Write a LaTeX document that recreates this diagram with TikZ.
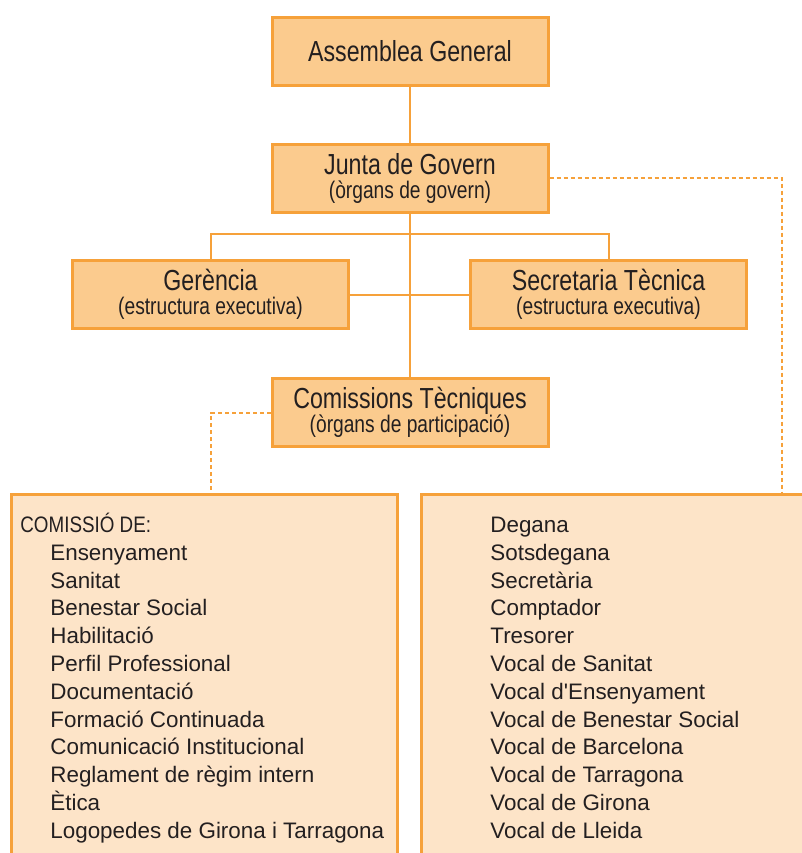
\documentclass[tikz,border=0pt]{standalone}
\usepackage{fontspec}
\usepackage{xcolor}
\setmainfont{Liberation Sans}
\newfontfamily\narrowfont{Liberation Sans}[FakeStretch=0.8]
\newfontfamily\capsfont{Liberation Sans}[FakeStretch=0.84]
\usetikzlibrary{positioning}

\definecolor{boxfill}{HTML}{FBCB8E}
\definecolor{boxline}{HTML}{F6A13A}
\definecolor{listfill}{HTML}{FDE4C8}
\definecolor{inkgray}{HTML}{231F20}

\newcommand{\bigline}{\narrowfont\fontsize{14.5}{12}\selectfont}
\newcommand{\smallline}{\narrowfont\fontsize{12}{12}\selectfont}
\newcommand{\listfont}{\fontsize{11.2}{13.9}\selectfont}
\newcommand{\apos}{\XeTeXglyph\XeTeXcharglyph"0027\relax}

\begin{document}
\begin{tikzpicture}[x=0.5pt, y=-0.5pt,
    orgbox/.style={draw=boxline, fill=boxfill, line width=1.5pt, minimum width=138pt, minimum height=34pt, inner sep=0pt, align=center, text=inkgray, font=\smallline},
    listbox/.style={draw=boxline, fill=listfill, line width=1.5pt, inner sep=0pt},
    listtext/.style={anchor=north west, inner sep=0pt, align=left, text=inkgray, font=\listfont},
    link/.style={draw=boxline, line width=1pt},
    dotlink/.style={draw=boxline, line width=1pt, dash pattern=on 2pt off 1.5pt}]
            \useasboundingbox (0,0) rectangle (802,853);
            \clip (0,0) rectangle (802,853);

            \node[orgbox] (assemblea) at (410, 51.5) {\bigline Assemblea General};
            \node[orgbox] (junta) at (410, 178) {{\bigline Junta de Govern}\\(òrgans de govern)};

            \node[orgbox] (gerencia)   at (210.5, 294.5) {{\bigline Gerència}\\(estructura executiva)};
            \node[orgbox] (secretaria) at (608.5, 294.5) {{\bigline Secretaria Tècnica}\\(estructura executiva)};

            \node[orgbox] (comissions) at (410, 412.5) {{\bigline Comissions Tècniques}\\(òrgans de participació)};

            \node[listbox, minimum width=193pt, minimum height=203pt] (comlist) at (204, 697) {};
            \node[listbox, minimum width=239.5pt, minimum height=203pt] (govlist) at (660.5, 697) {};

            \draw[link] (assemblea) -- (junta);
            \draw[link] (junta) -- (comissions);
            \draw[link] (gerencia.north) -- ++(0,-25) -| (secretaria.north);
            \draw[link] (gerencia) -- (secretaria);

            \coordinate (comdrop) at (211, 494);
            \coordinate (govdrop) at (782, 494);
            \draw[dotlink] (comissions.west) -| (comdrop);
            \draw[dotlink] (junta.east) -| (govdrop);

            \node[listtext] (comtext) at (20, 510) {\rule{0pt}{11pt}{\capsfont COMISSIÓ DE:}\\
                \hspace*{15pt}Ensenyament\\
                \hspace*{15pt}Sanitat\\
                \hspace*{15pt}Benestar Social\\
                \hspace*{15pt}Habilitació\\
                \hspace*{15pt}Perfil Professional\\
                \hspace*{15pt}Documentació\\
                \hspace*{15pt}Formació Continuada\\
                \hspace*{15pt}Comunicació Institucional\\
                \hspace*{15pt}Reglament de règim intern\\
                \hspace*{15pt}Ètica\\
                \hspace*{15pt}Logopedes de Girona i Tarragona};

            \node[listtext] (govtext) at (490, 510) {\rule{0pt}{11pt}Degana\\
                Sotsdegana\\
                Secretària\\
                Comptador\\
                Tresorer\\
                Vocal de Sanitat\\
                Vocal d\apos Ensenyament\\
                Vocal de Benestar Social\\
                Vocal de Barcelona\\
                Vocal de Tarragona\\
                Vocal de Girona\\
                Vocal de Lleida};
            \end{tikzpicture}
\end{document}
